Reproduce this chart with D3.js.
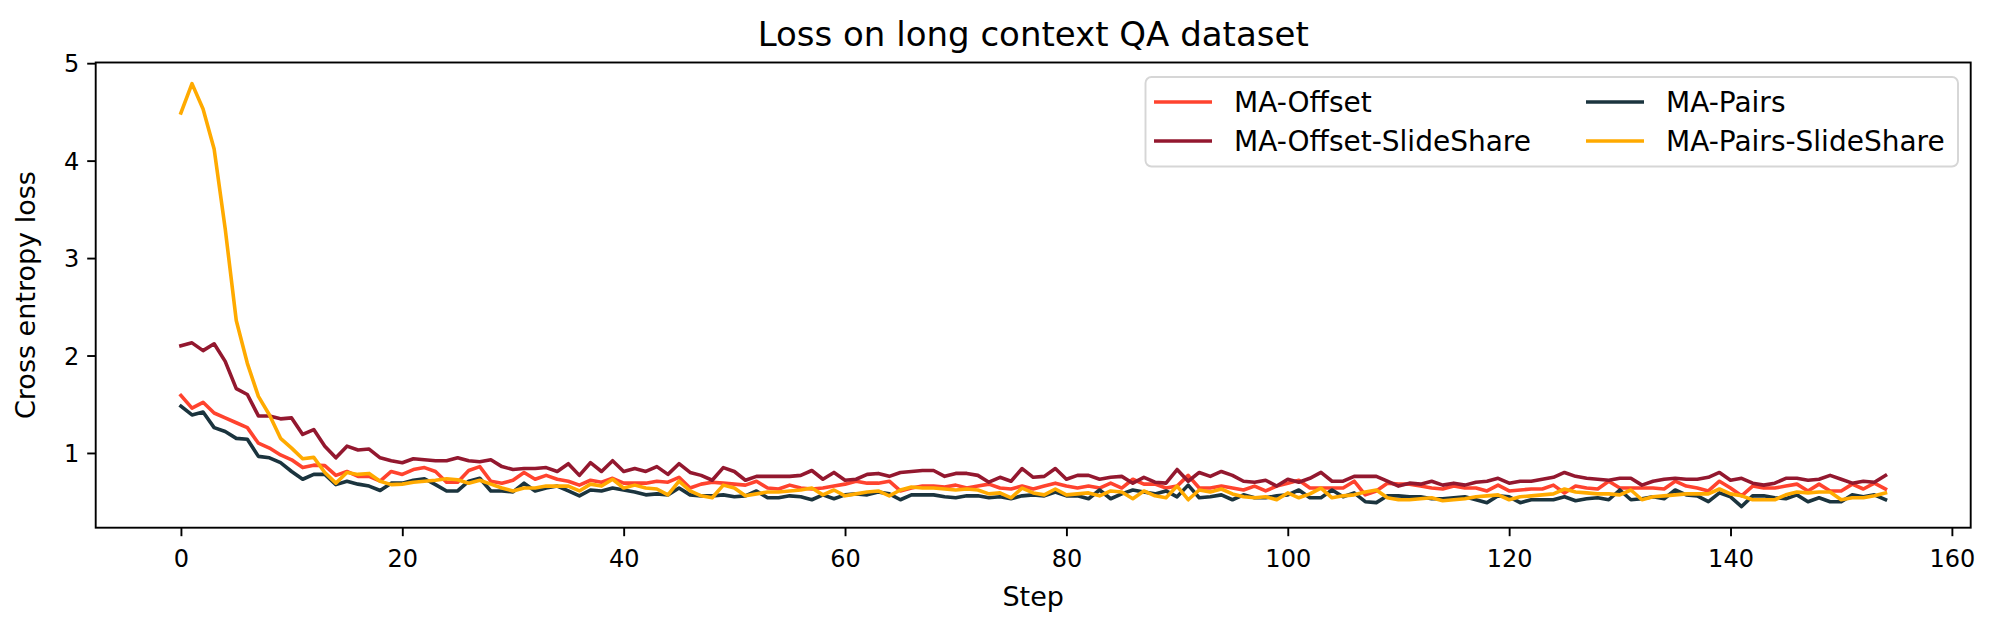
<!DOCTYPE html>
<html><head><meta charset="utf-8">
<script src="https://cdn.jsdelivr.net/npm/d3@7"></script>
<style>html,body{margin:0;padding:0;background:#fff;}svg{display:block;font-family:"DejaVu Sans",sans-serif;}</style>
</head><body><svg id="c" width="1999" height="635"></svg>
<script>
const title = "Loss on long context QA dataset";
const xLabel = "Step";
const yLabel = "Cross entropy loss";
const seriesNames = ["MA-Offset","MA-Offset-SlideShare","MA-Pairs","MA-Pairs-SlideShare"];
const seriesColors = ["#FF432E","#93182F","#1B343E","#FFAA00"];
const xTicks = [0,20,40,60,80,100,120,140,160];
const yTicks = [1,2,3,4,5];

const maOffset = [1.59,1.46,1.52,1.41,1.36,1.31,1.26,1.10,1.05,0.98,0.93,0.85,0.875,0.87,0.77,0.81,0.76,0.76,0.71,0.81,0.78,0.83,0.85,0.81,0.70,0.70,0.82,0.86,
0.71,0.69,0.72,0.80,0.73,0.77,0.73,0.71,0.67,0.72,0.70,0.74,0.69,0.69,0.69,0.71,0.70,0.75,0.64,0.68,0.70,0.69,0.68,0.67,0.71,0.64,0.63,0.67,0.64,0.63,
0.64,0.66,0.68,0.71,0.69,0.69,0.71,0.61,0.64,0.66,0.66,0.65,0.67,0.64,0.66,0.68,0.64,0.63,0.66,0.63,0.66,0.69,0.66,0.64,0.66,0.64,0.69,0.64,0.73,0.68,0.68,
0.64,0.66,0.77,0.64,0.64,0.66,0.64,0.62,0.66,0.61,0.66,0.69,0.72,0.64,0.64,0.64,0.64,0.71,0.57,0.61,0.69,0.68,0.68,0.66,0.64,0.63,0.66,0.64,0.64,0.61,0.67,
0.61,0.62,0.63,0.63,0.67,0.59,0.66,0.64,0.63,0.71,0.64,0.64,0.64,0.64,0.63,0.71,0.66,0.64,0.61,0.71,0.64,0.56,0.66,0.64,0.64,0.66,0.68,0.61,0.68,0.61,0.61,0.68,0.63,0.69,0.63];

const maOffsetSlide = [2.10,2.13,2.05,2.12,1.94,1.66,1.60,1.38,1.38,1.35,1.36,1.19,1.24,1.07,0.95,1.07,1.03,1.04,0.95,0.92,0.90,0.94,0.93,0.92,0.92,0.95,0.92,0.91,
0.93,0.86,0.83,0.84,0.84,0.85,0.81,0.89,0.77,0.90,0.81,0.92,0.81,0.84,0.81,0.86,0.78,0.89,0.80,0.77,0.72,0.85,0.81,0.72,0.76,0.76,0.76,0.76,0.77,0.82,
0.73,0.80,0.72,0.73,0.78,0.79,0.76,0.80,0.81,0.82,0.82,0.76,0.79,0.79,0.77,0.70,0.75,0.71,0.84,0.75,0.76,0.84,0.73,0.77,0.77,0.73,0.75,0.76,0.69,0.75,0.70,
0.69,0.83,0.71,0.80,0.76,0.81,0.77,0.71,0.70,0.72,0.66,0.73,0.70,0.74,0.80,0.71,0.71,0.76,0.76,0.76,0.71,0.66,0.69,0.68,0.71,0.67,0.69,0.67,0.70,0.71,0.74,
0.69,0.71,0.71,0.73,0.75,0.80,0.76,0.74,0.73,0.72,0.74,0.74,0.67,0.71,0.73,0.74,0.73,0.73,0.75,0.80,0.72,0.74,0.69,0.67,0.69,0.74,0.74,0.72,0.73,0.77,0.73,0.69,0.71,0.70,0.77];

const maPairs = [1.48,1.39,1.42,1.26,1.22,1.15,1.14,0.965,0.95,0.90,0.81,0.73,0.78,0.78,0.675,0.71,0.68,0.66,0.615,0.69,0.69,0.72,0.735,0.675,0.61,0.61,0.71,0.74,
0.61,0.61,0.60,0.69,0.61,0.64,0.66,0.61,0.56,0.62,0.61,0.64,0.62,0.60,0.57,0.58,0.57,0.64,0.57,0.56,0.56,0.57,0.55,0.56,0.61,0.54,0.54,0.56,0.55,0.52,
0.57,0.53,0.57,0.58,0.57,0.60,0.58,0.52,0.57,0.57,0.57,0.55,0.54,0.56,0.56,0.54,0.55,0.53,0.56,0.57,0.56,0.60,0.56,0.56,0.53,0.62,0.53,0.58,0.62,0.60,0.58,
0.61,0.55,0.67,0.54,0.55,0.57,0.52,0.57,0.54,0.54,0.56,0.57,0.62,0.54,0.54,0.62,0.55,0.59,0.50,0.49,0.56,0.56,0.55,0.55,0.53,0.53,0.54,0.55,0.52,0.49,0.56,
0.55,0.49,0.52,0.52,0.52,0.55,0.51,0.53,0.54,0.52,0.62,0.52,0.53,0.55,0.53,0.62,0.57,0.56,0.50,0.59,0.55,0.45,0.56,0.56,0.54,0.53,0.57,0.50,0.54,0.50,0.50,0.57,0.55,0.57,0.52];

const maPairsSlide = [4.49,4.79,4.53,4.12,3.30,2.36,1.92,1.58,1.39,1.15,1.05,0.94,0.955,0.80,0.69,0.80,0.78,0.79,0.71,0.675,0.68,0.70,0.71,0.72,0.735,0.725,0.69,0.72,
0.68,0.64,0.61,0.64,0.64,0.66,0.66,0.66,0.61,0.68,0.66,0.73,0.64,0.67,0.64,0.63,0.57,0.71,0.61,0.56,0.54,0.67,0.64,0.56,0.58,0.60,0.60,0.61,0.62,0.64,
0.57,0.62,0.56,0.58,0.60,0.61,0.56,0.62,0.65,0.64,0.64,0.63,0.62,0.63,0.62,0.58,0.59,0.54,0.64,0.59,0.57,0.63,0.57,0.58,0.59,0.56,0.61,0.60,0.53,0.61,0.56,
0.54,0.66,0.52,0.62,0.60,0.63,0.58,0.55,0.54,0.55,0.52,0.59,0.54,0.58,0.64,0.54,0.56,0.57,0.60,0.62,0.54,0.52,0.52,0.53,0.54,0.51,0.52,0.53,0.55,0.56,0.57,
0.52,0.55,0.56,0.57,0.58,0.63,0.60,0.59,0.58,0.58,0.57,0.62,0.52,0.55,0.56,0.57,0.58,0.58,0.58,0.63,0.58,0.56,0.52,0.52,0.52,0.57,0.60,0.59,0.60,0.60,0.52,0.54,0.54,0.56,0.59];

const seriesValues = [maOffset, maOffsetSlide, maPairs, maPairsSlide];

const svg = d3.select("#c");
const L = 95.7, R = 1970.7, T = 62.5, B = 527.7;
const allVals = seriesValues.flat();
const n = maOffset.length;
const xr = n - 1, xm = 0.05 * xr;
const [ymin, ymax] = d3.extent(allVals);
const ym = 0.05 * (ymax - ymin);
const x = d3.scaleLinear().domain([-xm, xr + xm]).range([L, R]);
const y = d3.scaleLinear().domain([ymin - ym, ymax + ym]).range([B, T]);

svg.append("clipPath").attr("id","clp").append("rect")
  .attr("x", L).attr("y", T).attr("width", R - L).attr("height", B - T);

const line = d3.line().x((d,i)=>x(i)).y(d=>y(d));
const g = svg.append("g").attr("clip-path","url(#clp)");
seriesValues.forEach((vals, k) => {
  g.append("path").datum(vals).attr("d", line)
    .attr("fill","none").attr("stroke", seriesColors[k])
    .attr("stroke-width", 3.6).attr("stroke-linejoin","round").attr("stroke-linecap","square");
});

// axes
const fs = 24, lfs = 27, legfs = 28, tfs = 34;
const xAxis = d3.axisBottom(x).tickValues(xTicks).tickSize(8.5).tickPadding(8).tickFormat(d3.format("d"));
const yAxis = d3.axisLeft(y).tickValues(yTicks).tickSize(8.5).tickPadding(8).tickFormat(d3.format("d"));
const gx = svg.append("g").attr("transform", `translate(0,${B})`).call(xAxis);
const gy = svg.append("g").attr("transform", `translate(${L},0)`).call(yAxis);
[gx, gy].forEach(a => {
  a.select(".domain").remove();
  a.selectAll(".tick line").attr("stroke","#000").attr("stroke-width",1.9);
  a.selectAll(".tick text").attr("font-family","DejaVu Sans").attr("font-size",fs).attr("fill","#000");
});
gx.selectAll(".tick text").attr("dy","0.95em");
gy.selectAll(".tick text").attr("dy","0.36em");

svg.append("rect").attr("x", L).attr("y", T).attr("width", R - L).attr("height", B - T)
  .attr("fill","none").attr("stroke","#000").attr("stroke-width",1.9);

// labels
svg.append("text").attr("x",(L+R)/2).attr("y",46).attr("text-anchor","middle")
  .attr("font-size",tfs).attr("fill","#000").text(title);
svg.append("text").attr("x",(L+R)/2).attr("y",606).attr("text-anchor","middle")
  .attr("font-size",lfs).attr("fill","#000").text(xLabel);
svg.append("text").attr("transform",`translate(35,${(T+B)/2}) rotate(-90)`).attr("text-anchor","middle")
  .attr("font-size",lfs).attr("fill","#000").text(yLabel);

// legend
const lg = svg.append("g");
lg.append("rect").attr("x",1145.5).attr("y",77).attr("width",812.5).attr("height",89.5)
  .attr("rx",6).attr("fill","#fff").attr("fill-opacity",0.8).attr("stroke","#d6d6d6").attr("stroke-width",1.9);
const legPos = [[1154,102],[1154,141],[1586,102],[1586,141]];
seriesNames.forEach((nm,k)=>{
  const [lx,ly] = legPos[k];
  lg.append("line").attr("x1",lx).attr("x2",lx+58).attr("y1",ly).attr("y2",ly)
    .attr("stroke",seriesColors[k]).attr("stroke-width",3.6);
  lg.append("text").attr("x",lx+80).attr("y",ly).attr("dy","0.36em")
    .attr("font-size",legfs).attr("fill","#000").text(nm);
});
</script></body></html>
